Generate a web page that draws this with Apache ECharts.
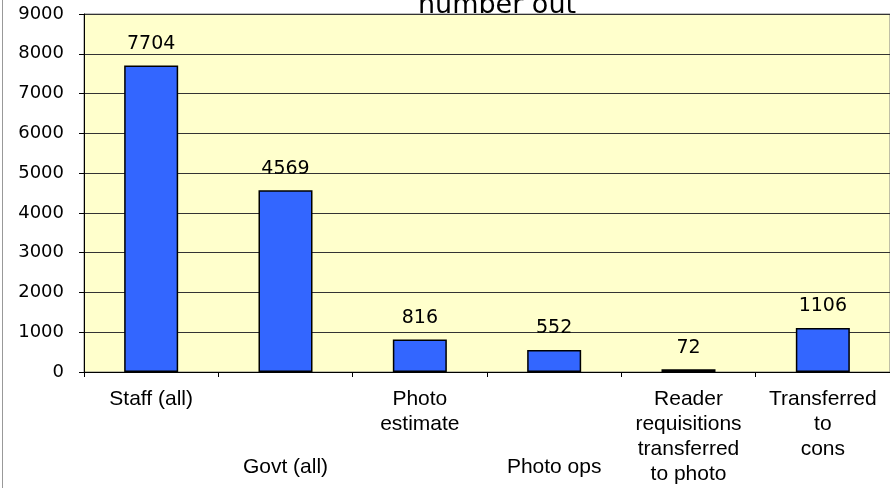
<!DOCTYPE html>
<html>
<head>
<meta charset="utf-8">
<script src="https://cdn.jsdelivr.net/npm/echarts@6/dist/echarts.min.js"></script>
<style>
  html, body { margin: 0; padding: 0; background: #fff; }
  #frame { position: absolute; left: 0; top: 0; width: 890px; height: 488px; }
  #frame:before { content: ""; position: absolute; left: 2px; top: 0; width: 1px; height: 488px; background: #999; z-index: 5; }
  #chart { position: absolute; left: 0; top: 0; width: 890px; height: 488px; }
</style>
</head>
<body>
<div id="frame"><div id="chart"></div></div>
<script>
const titleText = 'number out';
const categories = [
  'Staff (all)',
  'Govt (all)',
  'Photo\nestimate',
  'Photo ops',
  'Reader\nrequisitions\ntransferred\nto photo',
  'Transferred\nto\ncons'
];
const values = [7704, 4569, 816, 552, 72, 1106];
const lowerRow = [false, true, false, true, false, false];
const yMin = 0, yMax = 9000, yStep = 1000;

const chart = echarts.init(document.getElementById('chart'), null, { renderer: 'canvas' });
chart.setOption({
  animation: false,
  backgroundColor: '#ffffff',
  title: {
    text: titleText,
    left: 492,
    textAlign: 'center',
    top: -13,
    textStyle: { fontFamily: 'DejaVu Sans', fontSize: 27, fontWeight: 'normal', color: '#000' }
  },
  grid: {
    left: 84, top: 14, width: 811, bottom: 116,
    show: true, backgroundColor: '#FFFFCC', borderColor: '#808080', borderWidth: 1,
    containLabel: false
  },
  xAxis: {
    type: 'category',
    data: categories,
    axisLine: { lineStyle: { color: '#000', width: 1 } },
    axisTick: { show: true, length: 5, alignWithLabel: false, lineStyle: { color: '#000' } },
    axisLabel: {
      interval: 0,
      margin: 15,
      color: '#000',
      fontFamily: 'Liberation Sans, Arial, sans-serif',
      fontSize: 21,
      lineHeight: 25,
      formatter: function (v, i) {
        return lowerRow[i] ? '{lo|' + v + '}' : v;
      },
      rich: {
        lo: { fontFamily: 'Liberation Sans, Arial, sans-serif', fontSize: 21, lineHeight: 25, color: '#000', padding: [136, 0, 0, 0] }
      }
    }
  },
  yAxis: {
    type: 'value',
    min: yMin, max: yMax, interval: yStep,
    axisLine: { show: true, lineStyle: { color: '#000', width: 1 } },
    axisTick: { show: true, length: 5, lineStyle: { color: '#000' } },
    splitLine: { show: true, lineStyle: { color: '#333', width: 1 } },
    axisLabel: {
      margin: 20, color: '#000', fontFamily: 'DejaVu Sans', fontSize: 18,
      formatter: function (v) { return String(v); }
    }
  },
  series: [{
    type: 'bar',
    data: values,
    barWidth: 54,
    itemStyle: { color: '#3366FF', borderColor: '#000', borderWidth: 1.5 },
    label: {
      show: true, position: 'top', distance: 12,
      color: '#000', fontFamily: 'DejaVu Sans', fontSize: 19
    }
  }]
});
</script>
</body>
</html>
